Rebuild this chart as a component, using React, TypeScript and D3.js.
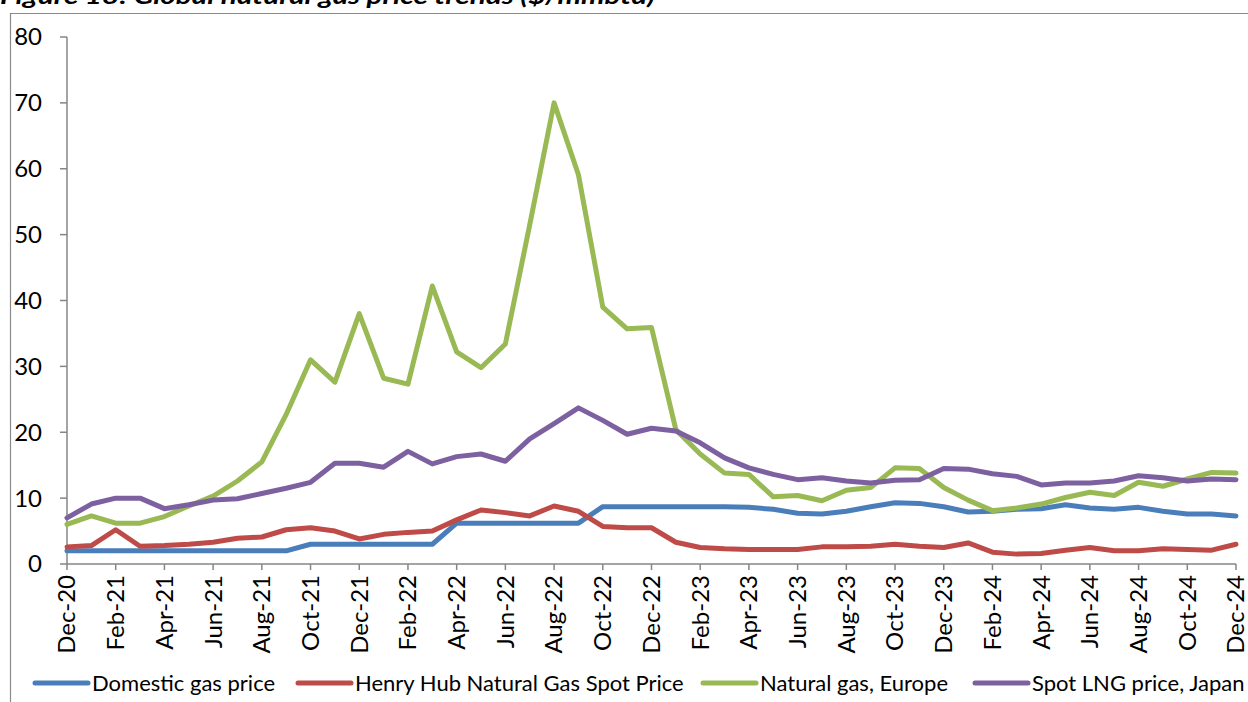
import React from "react";
import * as d3 from "d3";

const months = [
  "Dec-20","Jan-21","Feb-21","Mar-21","Apr-21","May-21","Jun-21","Jul-21","Aug-21","Sep-21","Oct-21","Nov-21",
  "Dec-21","Jan-22","Feb-22","Mar-22","Apr-22","May-22","Jun-22","Jul-22","Aug-22","Sep-22","Oct-22","Nov-22",
  "Dec-22","Jan-23","Feb-23","Mar-23","Apr-23","May-23","Jun-23","Jul-23","Aug-23","Sep-23","Oct-23","Nov-23",
  "Dec-23","Jan-24","Feb-24","Mar-24","Apr-24","May-24","Jun-24","Jul-24","Aug-24","Sep-24","Oct-24","Nov-24",
  "Dec-24",
];

const domestic = [
  2.0, 2.0, 2.0, 2.0, 2.0, 2.0, 2.0, 2.0, 2.0, 2.0, 3.0, 3.0,
  3.0, 3.0, 3.0, 3.0, 6.2, 6.2, 6.2, 6.2, 6.2, 6.2, 8.7, 8.7,
  8.7, 8.7, 8.7, 8.7, 8.6, 8.3, 7.7, 7.6, 8.0, 8.7, 9.3, 9.2,
  8.7, 7.9, 8.0, 8.3, 8.4, 9.0, 8.5, 8.3, 8.6, 8.0, 7.6, 7.6,
  7.3,
];

const henryHub = [
  2.6, 2.8, 5.2, 2.7, 2.8, 3.0, 3.3, 3.9, 4.1, 5.2, 5.5, 5.0,
  3.8, 4.5, 4.8, 5.0, 6.7, 8.2, 7.8, 7.3, 8.8, 8.0, 5.7, 5.5,
  5.5, 3.3, 2.5, 2.3, 2.2, 2.2, 2.2, 2.6, 2.6, 2.7, 3.0, 2.7,
  2.5, 3.2, 1.8, 1.5, 1.6, 2.1, 2.5, 2.0, 2.0, 2.3, 2.2, 2.1,
  3.0,
];

const europe = [
  6.0, 7.3, 6.2, 6.2, 7.2, 8.8, 10.3, 12.6, 15.5, 22.7, 31.0, 27.6,
  38.0, 28.2, 27.3, 42.2, 32.2, 29.8, 33.4, 51.5, 70.0, 59.1, 39.0, 35.7,
  35.9, 20.4, 16.7, 13.8, 13.6, 10.2, 10.4, 9.6, 11.2, 11.6, 14.6, 14.5,
  11.6, 9.7, 8.1, 8.5, 9.1, 10.1, 10.9, 10.4, 12.4, 11.8, 12.9, 13.9,
  13.8,
];

const japan = [
  7.0, 9.1, 10.0, 10.0, 8.4, 9.0, 9.7, 9.9, 10.7, 11.5, 12.4, 15.3,
  15.3, 14.7, 17.1, 15.2, 16.3, 16.7, 15.6, 19.0, 21.3, 23.7, 21.8, 19.7,
  20.6, 20.2, 18.4, 16.1, 14.6, 13.6, 12.8, 13.1, 12.6, 12.3, 12.7, 12.8,
  14.5, 14.4, 13.7, 13.3, 12.0, 12.3, 12.3, 12.6, 13.4, 13.1, 12.6, 12.9,
  12.8,
];

const yTicks = [0, 10, 20, 30, 40, 50, 60, 70, 80];
const seriesNames = [
  "Domestic gas price",
  "Henry Hub Natural Gas Spot Price",
  "Natural gas, Europe",
  "Spot LNG price, Japan",
];
const seriesColors = ["#4A7EBB", "#BE4B48", "#98B954", "#7D60A0"];
const titleText = "Figure 18: Global natural gas price trends ($/mmbtu)";

export default function App() {
  const W = 1248;
  const H = 702;
  const font = "Lato, 'Noto Sans', sans-serif";
  const x = d3.scalePoint<string>().domain(months).range([67, 1236]);
  const y = d3.scaleLinear().domain([0, 80]).range([564, 37]);
  const line = d3
    .line<number>()
    .x((_, i) => x(months[i]) as number)
    .y((d) => y(d));
  const allSeries = [domestic, henryHub, europe, japan];
  const axisColor = "#868686";
  const legendX = [35, 298, 703, 975];

  return (
    <svg
      width={W}
      height={H}
      style={{ position: "absolute", left: 0, top: 0, background: "#fff" }}
      fontFamily={font}
    >
      <rect x={0} y={0} width={W} height={H} fill="#fff" />
      <text x={0} y={4} fontSize={22} fontWeight="bold" fontStyle="italic" fill="#000" textLength={655} lengthAdjust="spacingAndGlyphs">
        {titleText}
      </text>
      {/* outer chart border */}
      <path d={`M10.5,${H} V13.5 H${W}`} fill="none" stroke="#8a8a8a" strokeWidth={1.2} />

      {/* y axis */}
      <line x1={67} x2={67} y1={y(80)} y2={y(0)} stroke={axisColor} strokeWidth={1.5} />
      {yTicks.map((t) => (
        <g key={t}>
          <line x1={60} x2={67} y1={y(t)} y2={y(t)} stroke={axisColor} strokeWidth={1.5} />
          <text x={42} y={y(t)} dy="0.35em" textAnchor="end" fontSize={24} fill="#000">
            {t}
          </text>
        </g>
      ))}

      {/* x axis */}
      <line x1={67} x2={1236} y1={y(0)} y2={y(0)} stroke={axisColor} strokeWidth={1.5} />
      {months.map((m, i) =>
        i % 2 === 0 ? (
          <g key={m}>
            <line x1={x(m)} x2={x(m)} y1={y(0)} y2={y(0) + 6} stroke={axisColor} strokeWidth={1.5} />
            <text
              transform={`translate(${(x(m) as number)},${575}) rotate(-90)`}
              textAnchor="end"
              dy="0.35em"
              fontSize={24}
              fill="#000"
            >
              {m}
            </text>
          </g>
        ) : null
      )}

      {/* series */}
      {allSeries.map((s, k) => (
        <path
          key={k}
          d={line(s) || ""}
          fill="none"
          stroke={seriesColors[k]}
          strokeWidth={5}
          strokeLinejoin="round"
          strokeLinecap="round"
        />
      ))}

      {/* legend */}
      {seriesNames.map((n, k) => (
        <g key={n}>
          <line x1={legendX[k]} x2={legendX[k] + 53} y1={683} y2={683} stroke={seriesColors[k]} strokeWidth={5} strokeLinecap="round" />
          <text x={legendX[k] + 57} y={683} dy="0.35em" fontSize={22} fill="#000">
            {n}
          </text>
        </g>
      ))}
    </svg>
  );
}
